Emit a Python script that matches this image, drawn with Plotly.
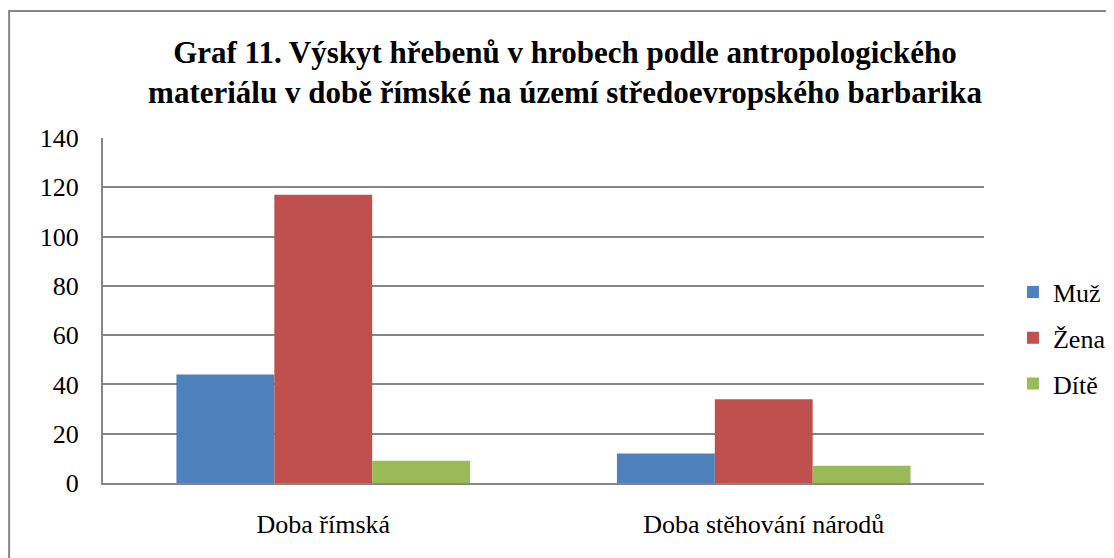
import plotly.graph_objects as go

categories = ["Doba římská", "Doba stěhování národů"]
series_names = ["Muž", "Žena", "Dítě"]
muz = [44, 12]
zena = [117, 34]
dite = [9, 7]
colors = ["#4F81BD", "#C0504D", "#9BBB59"]
title_text = "<b>Graf 11. Výskyt hřebenů v hrobech podle antropologického<br>materiálu v době římské na území středoevropského barbarika</b>"

FONT = "Liberation Serif"

fig = go.Figure()
for i, (name, vals) in enumerate(zip(series_names, [muz, zena, dite])):
    fig.add_trace(go.Bar(
        x=categories, y=vals, name=name, legendgroup=name,
        marker=dict(color=colors[i], line=dict(width=0)),
    ))

L, T, PW, PH = 95, 130, 882, 345
fig.update_layout(
    width=1114, height=558,
    margin=dict(l=L, r=1114 - L - PW, t=T, b=558 - T - PH),
    paper_bgcolor="white", plot_bgcolor="white",
    barmode="group", bargap=1/3, bargroupgap=0,
    font=dict(family=FONT, size=26, color="black"),
    title=dict(text=title_text, x=0.5, xref="container", xanchor="center",
               y=0.902, yref="container", yanchor="top",
               font=dict(family=FONT, size=31, color="black")),
    legend=dict(x=1.0317, xanchor="left", y=0.42, yanchor="middle",
                font=dict(family=FONT, size=26, color="black"),
                traceorder="grouped", tracegroupgap=9,
                bgcolor="rgba(0,0,0,0)"),
    xaxis=dict(showline=True, linecolor="#868686", linewidth=2,
               showgrid=False, ticks="", ticklabelstandoff=17,
               tickfont=dict(family=FONT, size=26, color="black")),
    yaxis=dict(range=[0, 140], dtick=20, showgrid=True, gridcolor="#868686",
               gridwidth=2, showline=True, linecolor="#868686", linewidth=2,
               ticks="", ticklabelstandoff=17, zeroline=False,
               tickfont=dict(family=FONT, size=26, color="black")),
    showlegend=True,
)

fig.add_shape(type="rect", xref="paper", yref="paper",
              x0=(1 - L) / PW, x1=1.3, y0=-0.5, y1=(T + PH - 3) / PH,
              line=dict(color="#868686", width=2), fillcolor="rgba(0,0,0,0)",
              layer="below")

fig.write_html("out.html")
